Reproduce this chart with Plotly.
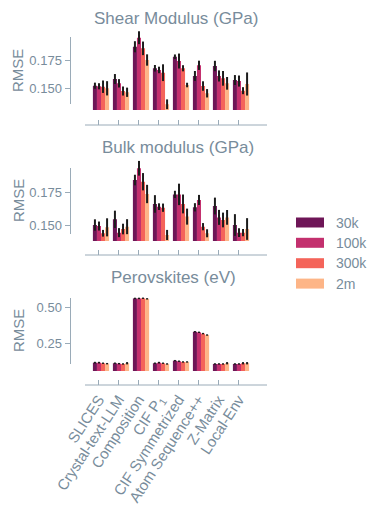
import plotly.graph_objects as go
import numpy as np

categories = ["SLICES", "Crystal-text-LLM", "Composition", "CIF P<sub>1</sub>",
              "CIF Symmetrized", "Atom Sequence++", "Z-Matrix", "Local-Env"]
series = ["30k", "100k", "300k", "2m"]
colors = ["#6e1657", "#c3306e", "#f4645a", "#fdb587"]

# Shear Modulus (GPa): RMSE per series (rows) x category (cols)
shear_30k = [0.1523, 0.1582, 0.1867, 0.1677, 0.1779, 0.1609, 0.1697, 0.1573]
shear_100k = [0.1518, 0.1544, 0.1947, 0.1662, 0.1741, 0.1703, 0.1609, 0.1564]
shear_300k = [0.1514, 0.1476, 0.1853, 0.1638, 0.1677, 0.1520, 0.1588, 0.1479]
shear_2m = [0.1500, 0.1465, 0.1750, 0.1359, 0.1529, 0.1456, 0.1544, 0.1538]
shear_err_30k = [0.0027, 0.0044, 0.0049, 0.0029, 0.0020, 0.0044, 0.0046, 0.0044]
shear_err_100k = [0.0027, 0.0037, 0.0057, 0.0029, 0.0066, 0.0041, 0.0049, 0.0049]
shear_err_300k = [0.0055, 0.0040, 0.0060, 0.0074, 0.0027, 0.0042, 0.0065, 0.0031]
shear_err_2m = [0.0063, 0.0041, 0.0050, 0.0043, 0.0020, 0.0037, 0.0056, 0.0102]

# Bulk modulus (GPa)
bulk_30k = [0.1500, 0.1544, 0.1848, 0.1663, 0.1737, 0.1637, 0.1647, 0.1500]
bulk_100k = [0.1492, 0.1441, 0.1939, 0.1642, 0.1737, 0.1694, 0.1559, 0.1441]
bulk_300k = [0.1436, 0.1469, 0.1835, 0.1634, 0.1663, 0.1487, 0.1539, 0.1441]
bulk_2m = [0.1482, 0.1487, 0.1740, 0.1423, 0.1565, 0.1436, 0.1559, 0.1469]
bulk_err_30k = [0.0044, 0.0067, 0.0041, 0.0068, 0.0028, 0.0032, 0.0065, 0.0084]
bulk_err_100k = [0.0035, 0.0035, 0.0057, 0.0026, 0.0083, 0.0039, 0.0058, 0.0034]
bulk_err_300k = [0.0026, 0.0041, 0.0067, 0.0032, 0.0073, 0.0028, 0.0057, 0.0028]
bulk_err_2m = [0.0070, 0.0058, 0.0071, 0.0039, 0.0062, 0.0031, 0.0057, 0.0084]

# Perovskites (eV)
perov_30k = [0.114, 0.110, 0.565, 0.110, 0.128, 0.331, 0.105, 0.105]
perov_100k = [0.114, 0.107, 0.565, 0.114, 0.124, 0.327, 0.105, 0.105]
perov_300k = [0.110, 0.105, 0.566, 0.110, 0.119, 0.318, 0.105, 0.110]
perov_2m = [0.107, 0.110, 0.562, 0.105, 0.119, 0.308, 0.110, 0.110]
perov_err_30k = [0.006, 0.005, 0.005, 0.005, 0.005, 0.005, 0.005, 0.005]
perov_err_100k = [0.006, 0.005, 0.005, 0.006, 0.005, 0.005, 0.005, 0.005]
perov_err_300k = [0.005, 0.005, 0.005, 0.005, 0.005, 0.005, 0.005, 0.008]
perov_err_2m = [0.005, 0.008, 0.005, 0.005, 0.005, 0.005, 0.008, 0.008]

panels = [
    ("Shear Modulus (GPa)", [shear_30k, shear_100k, shear_300k, shear_2m],
     [shear_err_30k, shear_err_100k, shear_err_300k, shear_err_2m],
     [0.150, 0.175], ["0.150", "0.175"]),
    ("Bulk modulus (GPa)", [bulk_30k, bulk_100k, bulk_300k, bulk_2m],
     [bulk_err_30k, bulk_err_100k, bulk_err_300k, bulk_err_2m],
     [0.150, 0.175], ["0.150", "0.175"]),
    ("Perovskites (eV)", [perov_30k, perov_100k, perov_300k, perov_2m],
     [perov_err_30k, perov_err_100k, perov_err_300k, perov_err_2m],
     [0.25, 0.50], ["0.25", "0.50"]),
]

W, H = 382, 509
FONT = "Liberation Sans, Arial, sans-serif"
TXT = "#788c9b"
LINE = "#9aabb8"


def px(x):
    return x / W


def py(y):
    return 1 - y / H


# layout geometry (pixels): bar area top/bottom, y ranges, axis line y, spine extent
geo = [
    dict(top=28, bot=110, yr=[0.13083, 0.20327], axy=125, sp=(37, 104), title_x=175.5, title_y=18, rmse_y=71),
    dict(top=158, bot=241, yr=[0.13762, 0.20186], axy=255, sp=(168, 234), title_x=177.5, title_y=147, rmse_y=201),
    dict(top=290, bot=371, yr=[0.0555, 0.624], axy=385, sp=(298, 364), title_x=173.5, title_y=277, rmse_y=331),
]

xpos = np.arange(len(categories))
fig = go.Figure()
layout = dict(
    width=W, height=H, autosize=False,
    margin=dict(l=0, r=0, t=0, b=0, autoexpand=False),
    paper_bgcolor="white", plot_bgcolor="white",
    barmode="group", bargap=0.19, bargroupgap=0.0,
    showlegend=False,
    font=dict(family=FONT, color=TXT),
)
shapes = []
annotations = []

for p, (title, vals, errs, tv, tt) in enumerate(panels):
    g = geo[p]
    xa = "x" if p == 0 else f"x{p+1}"
    ya = "y" if p == 0 else f"y{p+1}"
    for s, name in enumerate(series):
        fig.add_trace(go.Bar(
            x=xpos, y=vals[s], name=name, xaxis=xa, yaxis=ya,
            marker=dict(color=colors[s], line=dict(width=0)),
            error_y=dict(type="data", array=errs[s], color="#1c1c1c",
                         thickness=2, width=0),
            offsetgroup=str(s),
        ))
    xkey = "xaxis" if p == 0 else f"xaxis{p+1}"
    ykey = "yaxis" if p == 0 else f"yaxis{p+1}"
    layout[xkey] = dict(
        domain=[px(91), px(251)], range=[-0.5, 7.5],
        anchor="free", position=py(g["axy"]), automargin=False,
        tickmode="array", tickvals=list(xpos - 0.12),
        ticktext=categories if p == 2 else [""] * len(categories),
        showticklabels=(p == 2),
        ticks="inside", ticklen=5, tickwidth=1, tickcolor=LINE,
        showline=False, showgrid=False, zeroline=False,
        tickangle=-57, tickfont=dict(size=15, color=TXT, family=FONT),
        ticklabelstandoff=2,
    )
    layout[ykey] = dict(
        domain=[py(g["bot"]), py(g["top"])], range=g["yr"],
        anchor="free", position=px(70.5), automargin=False,
        tickmode="array", tickvals=tv, ticktext=tt,
        ticks="outside", ticklen=6, tickwidth=1, tickcolor=LINE,
        showline=False, showgrid=False, zeroline=False,
        tickfont=dict(size=13, color=TXT, family=FONT),
    )
    # spines
    shapes.append(dict(type="line", xref="paper", yref="paper",
                       x0=px(70.5), x1=px(70.5), y0=py(g["sp"][1]), y1=py(g["sp"][0]),
                       line=dict(color=LINE, width=1)))
    shapes.append(dict(type="line", xref="paper", yref="paper",
                       x0=px(85), x1=px(267), y0=py(g["axy"]), y1=py(g["axy"]),
                       line=dict(color=LINE, width=1)))
    annotations.append(dict(text=title, xref="paper", yref="paper",
                            x=px(g["title_x"]), y=py(g["title_y"]), xanchor="center", yanchor="middle",
                            showarrow=False, font=dict(size=17, color=TXT, family=FONT)))
    annotations.append(dict(text="RMSE", xref="paper", yref="paper",
                            x=px(18), y=py(g["rmse_y"]), xanchor="center", yanchor="middle",
                            textangle=-90, showarrow=False,
                            font=dict(size=15, color=TXT, family=FONT)))

# legend drawn manually
leg_y = [222.5, 242.8, 263.2, 283.6]
for s, name in enumerate(series):
    shapes.append(dict(type="rect", xref="paper", yref="paper",
                       x0=px(296), x1=px(324), y0=py(leg_y[s] + 5), y1=py(leg_y[s] - 5),
                       fillcolor=colors[s], line=dict(width=0)))
    annotations.append(dict(text=name, xref="paper", yref="paper",
                            x=px(334), y=py(leg_y[s]), xanchor="left", yanchor="middle",
                            showarrow=False, font=dict(size=14, color=TXT, family=FONT)))

layout["shapes"] = shapes
layout["annotations"] = annotations
fig.update_layout(**layout)
fig.write_html("out.html",
               config={"displayModeBar": False, "staticPlot": True},
               post_script="document.body.style.margin='0px';document.body.style.overflow='hidden';")
